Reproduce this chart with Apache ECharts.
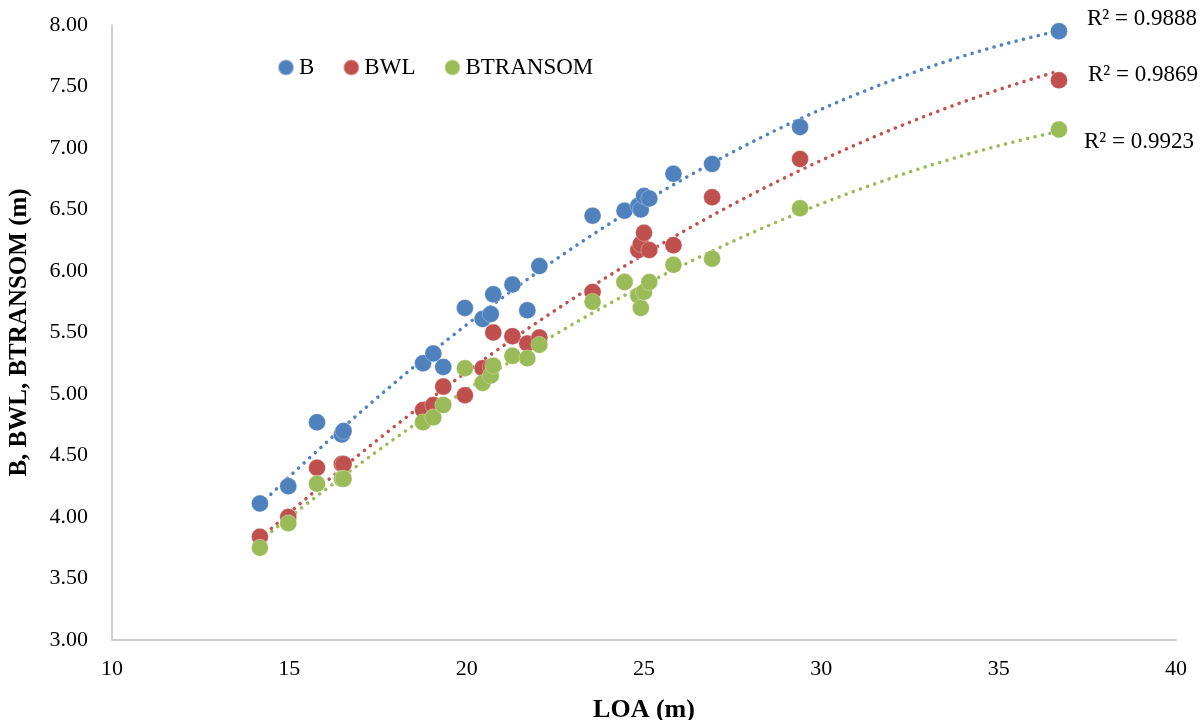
<!DOCTYPE html>
<html>
<head>
<meta charset="utf-8">
<script src="https://cdn.jsdelivr.net/npm/echarts@6/dist/echarts.min.js"></script>
<style>
html,body{margin:0;padding:0;background:#fff;}
#chart{width:1204px;height:720px;}
</style>
</head>
<body>
<div id="chart"></div>
<script>
// LOA (m)
var loa = [14.17, 14.97, 15.78, 16.48, 16.53, 18.77, 19.06, 19.34, 19.95, 20.45, 20.68, 20.75, 21.29, 21.71, 22.05, 23.55, 24.45, 24.84, 24.91, 25.0, 25.15, 25.83, 26.92, 29.4, 36.7];
var bVals = [4.11, 4.25, 4.77, 4.67, 4.70, 5.25, 5.33, 5.22, 5.70, 5.61, 5.65, 5.81, 5.89, 5.68, 6.04, 6.45, 6.49, 6.53, 6.50, 6.61, 6.59, 6.79, 6.87, 7.17, 7.95];
var bwlVals = [3.84, 4.00, 4.40, 4.43, 4.43, 4.87, 4.91, 5.06, 4.99, 5.21, 5.22, 5.50, 5.47, 5.41, 5.46, 5.83, 5.91, 6.17, 6.22, 6.31, 6.17, 6.21, 6.60, 6.91, 7.55];
var btVals = [3.75, 3.95, 4.27, 4.31, 4.31, 4.77, 4.81, 4.91, 5.21, 5.09, 5.15, 5.23, 5.31, 5.29, 5.40, 5.75, 5.91, 5.80, 5.70, 5.83, 5.91, 6.05, 6.10, 6.51, 7.15];
var seriesNames = ['B', 'BWL', 'BTRANSOM'];
var r2Labels = ['R\u00B2 = 0.9888', 'R\u00B2 = 0.9869', 'R\u00B2 = 0.9923'];

var colors = ['#4F81BD', '#C0504D', '#9BBB59'];
var FONT = 'Liberation Serif';

function pairs(xs, ys){ return xs.map(function(x,i){ return [x, ys[i]]; }); }

// quadratic least-squares trendline
function quadFit(xs, ys){
  var n = xs.length, s = [0,0,0,0,0], t = [0,0,0];
  for (var i=0;i<n;i++){
    var x = xs[i], y = ys[i], p = 1;
    for (var k=0;k<5;k++){ s[k]+=p; if(k<3) t[k]+=p*y; p*=x; }
  }
  var A = [[s[0],s[1],s[2],t[0]],[s[1],s[2],s[3],t[1]],[s[2],s[3],s[4],t[2]]];
  for (var c=0;c<3;c++){
    for (var r=c+1;r<3;r++){
      var f = A[r][c]/A[c][c];
      for (var k2=c;k2<4;k2++) A[r][k2]-=f*A[c][k2];
    }
  }
  var co = [0,0,0];
  for (var r2=2;r2>=0;r2--){
    var sum = A[r2][3];
    for (var k3=r2+1;k3<3;k3++) sum -= A[r2][k3]*co[k3];
    co[r2] = sum/A[r2][r2];
  }
  return co;
}
function trend(xs, ys){
  var co = quadFit(xs, ys);
  var mn = Math.min.apply(null, xs), mx = Math.max.apply(null, xs);
  var out = [];
  var N = 120;
  for (var i=0;i<=N;i++){
    var x = mn + (mx-mn)*i/N;
    out.push([x, co[0]+co[1]*x+co[2]*x*x]);
  }
  return out;
}

var allVals = [bVals, bwlVals, btVals];
var labelOffsets = [[20,-12],[21,4],[17,11]];

var series = [];
allVals.forEach(function(vals, i){
  series.push({
    name: seriesNames[i],
    type: 'scatter',
    data: pairs(loa, vals),
    symbol: 'circle',
    symbolSize: 17,
    itemStyle: { color: colors[i], opacity: 1, borderColor: 'rgba(255,255,255,0.5)', borderWidth: 0.6 },
    z: 3
  });
});
allVals.forEach(function(vals, i){
  series.push({
    name: seriesNames[i] + ' trend',
    type: 'line',
    data: trend(loa, vals),
    showSymbol: false,
    symbol: 'none',
    smooth: false,
    silent: true,
    lineStyle: { color: colors[i], width: 3.5, type: [0.1, 7.5], cap: 'round' },
    endLabel: {
      show: true,
      formatter: r2Labels[i],
      fontFamily: FONT,
      fontSize: 23,
      color: '#000',
      offset: labelOffsets[i]
    },
    z: 2
  });
});

var chart = echarts.init(document.getElementById('chart'), null, {renderer: 'canvas'});
chart.setOption({
  animation: false,
  backgroundColor: '#fff',
  textStyle: { fontFamily: FONT },
  grid: { left: 112, right: 28, top: 25, bottom: 80, containLabel: false, outerBoundsMode: 'none' },
  legend: {
    data: seriesNames,
    left: 272, top: 51,
    icon: 'circle',
    itemWidth: 16, itemHeight: 16,
    itemGap: 28,
    textStyle: { fontFamily: FONT, fontSize: 23, color: '#000' }
  },
  xAxis: {
    type: 'value',
    min: 10, max: 40, interval: 5,
    name: 'LOA (m)',
    nameLocation: 'middle',
    nameGap: 57,
    nameTextStyle: { fontFamily: FONT, fontSize: 26, fontWeight: 'bold', color: '#000' },
    axisLine: { show: true, lineStyle: { color: '#BFBFBF', width: 1.5 } },
    axisTick: { show: false },
    splitLine: { show: false },
    axisLabel: { fontFamily: FONT, fontSize: 22, color: '#000', margin: 18 }
  },
  yAxis: {
    type: 'value',
    min: 3, max: 8, interval: 0.5,
    name: 'B, BWL, BTRANSOM (m)',
    nameLocation: 'middle',
    nameGap: 80,
    nameTextStyle: { fontFamily: FONT, fontSize: 25, fontWeight: 'bold', color: '#000' },
    axisLine: { show: true, lineStyle: { color: '#BFBFBF', width: 1.5 } },
    axisTick: { show: false },
    splitLine: { show: false },
    axisLabel: { fontFamily: FONT, fontSize: 22, color: '#000', margin: 24,
      formatter: function(v){ return v.toFixed(2); } }
  },
  series: series
});
</script>
</body>
</html>
